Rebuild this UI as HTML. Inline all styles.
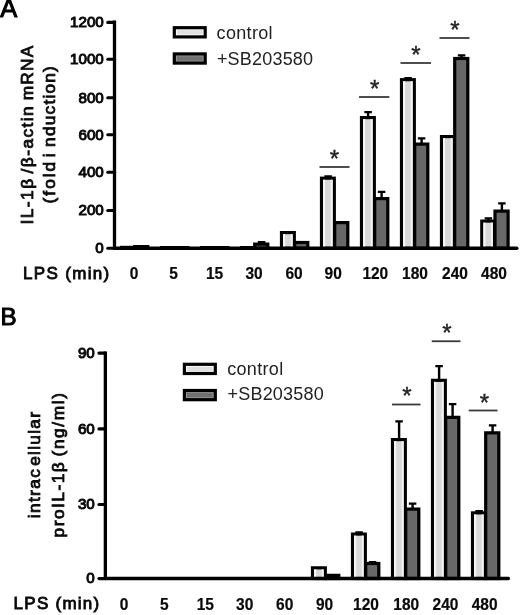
<!DOCTYPE html>
<html lang="en">
<head>
<meta charset="utf-8">
<title>Figure</title>
<style>
html,body{margin:0;padding:0;background:#fff;}
body{width:520px;height:615px;overflow:hidden;}
svg{display:block;filter:grayscale(100%);}
text{font-family:"Liberation Sans", Arial, Helvetica, sans-serif;fill:#0a0a0a;}
.tk{font-size:15.2px;stroke:#0a0a0a;stroke-width:1px;}
.tkx{font-size:15.5px;font-weight:bold;stroke:#0a0a0a;stroke-width:0.2px;}
.sb18{font-size:17px;stroke:#0a0a0a;stroke-width:0.85px;}
.yl{font-size:16px;stroke:#0a0a0a;stroke-width:0.8px;}
.pan{font-size:25.5px;fill:#000;stroke:#000;stroke-width:1px;}
.panb{font-size:24.2px;}
.lg{font-size:18px;fill:#222;}
.ast{font-size:24px;fill:#222;stroke:#222;stroke-width:0.4px;}
</style>
</head>
<body>
<svg width="520" height="615" viewBox="0 0 520 615">
<rect width="520" height="615" fill="#fff"/>
<rect x="121.50" y="247.40" width="12.8" height="0.90" fill="#d8d8d8" stroke="#000" stroke-width="3.2"/>
<rect x="134.70" y="246.60" width="13.1" height="1.70" fill="#686868" stroke="#000" stroke-width="3.2"/>
<rect x="161.50" y="247.60" width="12.8" height="0.70" fill="#d8d8d8" stroke="#000" stroke-width="3.2"/>
<rect x="174.70" y="247.60" width="13.1" height="0.70" fill="#686868" stroke="#000" stroke-width="3.2"/>
<rect x="201.50" y="247.60" width="12.8" height="0.70" fill="#d8d8d8" stroke="#000" stroke-width="3.2"/>
<rect x="214.70" y="247.60" width="13.1" height="0.70" fill="#686868" stroke="#000" stroke-width="3.2"/>
<rect x="241.50" y="247.60" width="12.8" height="0.70" fill="#d8d8d8" stroke="#000" stroke-width="3.2"/>
<path d="M261.60 244.00V242.10M257.85 242.10H265.35" stroke="#000" stroke-width="2.4" fill="none"/>
<rect x="254.70" y="244.10" width="13.1" height="4.20" fill="#686868" stroke="#000" stroke-width="3.2"/>
<rect x="281.50" y="232.60" width="12.8" height="15.70" fill="#d8d8d8" stroke="#000" stroke-width="3.2"/>
<rect x="283.00" y="234.10" width="2.2" height="14.20" fill="#f6f6f6"/>
<rect x="290.60" y="234.10" width="2.1" height="14.20" fill="#f2f2f2"/>
<rect x="294.70" y="242.50" width="13.1" height="5.80" fill="#686868" stroke="#000" stroke-width="3.2"/>
<path d="M328.10 178.10V176.40M324.35 176.40H331.85" stroke="#000" stroke-width="2.4" fill="none"/>
<rect x="321.50" y="178.20" width="12.8" height="70.10" fill="#d8d8d8" stroke="#000" stroke-width="3.2"/>
<rect x="323.00" y="179.70" width="2.2" height="68.60" fill="#f6f6f6"/>
<rect x="330.60" y="179.70" width="2.1" height="68.60" fill="#f2f2f2"/>
<rect x="334.70" y="222.60" width="13.1" height="25.70" fill="#686868" stroke="#000" stroke-width="3.2"/>
<path d="M368.10 117.50V112.10M364.35 112.10H371.85" stroke="#000" stroke-width="2.4" fill="none"/>
<rect x="361.50" y="117.60" width="12.8" height="130.70" fill="#d8d8d8" stroke="#000" stroke-width="3.2"/>
<rect x="363.00" y="119.10" width="2.2" height="129.20" fill="#f6f6f6"/>
<rect x="370.60" y="119.10" width="2.1" height="129.20" fill="#f2f2f2"/>
<path d="M381.60 198.50V191.90M377.85 191.90H385.35" stroke="#000" stroke-width="2.4" fill="none"/>
<rect x="374.70" y="198.60" width="13.1" height="49.70" fill="#686868" stroke="#000" stroke-width="3.2"/>
<path d="M408.10 79.60V78.30M404.35 78.30H411.85" stroke="#000" stroke-width="2.4" fill="none"/>
<rect x="401.50" y="79.70" width="12.8" height="168.60" fill="#d8d8d8" stroke="#000" stroke-width="3.2"/>
<rect x="403.00" y="81.20" width="2.2" height="167.10" fill="#f6f6f6"/>
<rect x="410.60" y="81.20" width="2.1" height="167.10" fill="#f2f2f2"/>
<path d="M421.60 144.00V138.40M417.85 138.40H425.35" stroke="#000" stroke-width="2.4" fill="none"/>
<rect x="414.70" y="144.10" width="13.1" height="104.20" fill="#686868" stroke="#000" stroke-width="3.2"/>
<rect x="441.50" y="136.60" width="12.8" height="111.70" fill="#d8d8d8" stroke="#000" stroke-width="3.2"/>
<rect x="443.00" y="138.10" width="2.2" height="110.20" fill="#f6f6f6"/>
<rect x="450.60" y="138.10" width="2.1" height="110.20" fill="#f2f2f2"/>
<path d="M461.60 58.40V55.40M457.85 55.40H465.35" stroke="#000" stroke-width="2.4" fill="none"/>
<rect x="454.70" y="58.50" width="13.1" height="189.80" fill="#686868" stroke="#000" stroke-width="3.2"/>
<path d="M488.40 221.00V218.40M484.65 218.40H492.15" stroke="#000" stroke-width="2.4" fill="none"/>
<rect x="481.80" y="221.10" width="12.8" height="27.20" fill="#d8d8d8" stroke="#000" stroke-width="3.2"/>
<rect x="483.30" y="222.60" width="2.2" height="25.70" fill="#f6f6f6"/>
<rect x="490.90" y="222.60" width="2.1" height="25.70" fill="#f2f2f2"/>
<path d="M501.90 211.00V203.40M498.15 203.40H505.65" stroke="#000" stroke-width="2.4" fill="none"/>
<rect x="495.00" y="211.10" width="13.1" height="37.20" fill="#686868" stroke="#000" stroke-width="3.2"/>
<path d="M114.50 20.60V249.80" stroke="#000" stroke-width="3.3" fill="none"/>
<path d="M114.50 248.30H516.80" stroke="#000" stroke-width="3.4" stroke-linecap="round" fill="none"/>
<path d="M107.80 22.40H114.50" stroke="#000" stroke-width="3.1" stroke-linecap="round" fill="none"/>
<text transform="translate(103.8 27.2) scale(1 1.02)" text-anchor="end" class="tk">1200</text>
<path d="M107.80 59.30H114.50" stroke="#000" stroke-width="3.1" stroke-linecap="round" fill="none"/>
<text transform="translate(103.8 64.1) scale(1 1.02)" text-anchor="end" class="tk">1000</text>
<path d="M107.80 97.80H114.50" stroke="#000" stroke-width="3.1" stroke-linecap="round" fill="none"/>
<text transform="translate(103.8 102.6) scale(1 1.02)" text-anchor="end" class="tk">800</text>
<path d="M107.80 134.80H114.50" stroke="#000" stroke-width="3.1" stroke-linecap="round" fill="none"/>
<text transform="translate(103.8 139.6) scale(1 1.02)" text-anchor="end" class="tk">600</text>
<path d="M107.80 172.30H114.50" stroke="#000" stroke-width="3.1" stroke-linecap="round" fill="none"/>
<text transform="translate(103.8 177.1) scale(1 1.02)" text-anchor="end" class="tk">400</text>
<path d="M107.80 210.50H114.50" stroke="#000" stroke-width="3.1" stroke-linecap="round" fill="none"/>
<text transform="translate(103.8 215.3) scale(1 1.02)" text-anchor="end" class="tk">200</text>
<path d="M107.80 248.20H114.50" stroke="#000" stroke-width="3.1" stroke-linecap="round" fill="none"/>
<text transform="translate(103.8 253.0) scale(1 1.02)" text-anchor="end" class="tk">0</text>
<path d="M319.50 167.00H349.50" stroke="#3a3a3a" stroke-width="1.8" fill="none"/>
<text x="334.3" y="166.6" text-anchor="middle" class="ast">*</text>
<path d="M359.00 97.00H389.30" stroke="#3a3a3a" stroke-width="1.8" fill="none"/>
<text x="374.6" y="96.6" text-anchor="middle" class="ast">*</text>
<path d="M400.50 63.00H431.00" stroke="#3a3a3a" stroke-width="1.8" fill="none"/>
<text x="416" y="62.6" text-anchor="middle" class="ast">*</text>
<path d="M439.50 38.00H469.50" stroke="#3a3a3a" stroke-width="1.8" fill="none"/>
<text x="455" y="37.6" text-anchor="middle" class="ast">*</text>
<rect x="312.50" y="567.85" width="12.8" height="10.65" fill="#d8d8d8" stroke="#000" stroke-width="3.2"/>
<rect x="314.00" y="569.35" width="2.2" height="9.15" fill="#f6f6f6"/>
<rect x="321.60" y="569.35" width="2.1" height="9.15" fill="#f2f2f2"/>
<rect x="325.70" y="575.35" width="13.1" height="3.15" fill="#686868" stroke="#000" stroke-width="3.2"/>
<path d="M359.10 534.00V532.50M355.35 532.50H362.85" stroke="#000" stroke-width="2.4" fill="none"/>
<rect x="352.50" y="534.10" width="12.8" height="44.40" fill="#d8d8d8" stroke="#000" stroke-width="3.2"/>
<rect x="354.00" y="535.60" width="2.2" height="42.90" fill="#f6f6f6"/>
<rect x="361.60" y="535.60" width="2.1" height="42.90" fill="#f2f2f2"/>
<path d="M372.60 563.40V562.10M368.85 562.10H376.35" stroke="#000" stroke-width="2.4" fill="none"/>
<rect x="365.70" y="563.50" width="13.1" height="15.00" fill="#686868" stroke="#000" stroke-width="3.2"/>
<path d="M399.10 439.50V421.40M395.35 421.40H402.85" stroke="#000" stroke-width="2.4" fill="none"/>
<rect x="392.50" y="439.60" width="12.8" height="138.90" fill="#d8d8d8" stroke="#000" stroke-width="3.2"/>
<rect x="394.00" y="441.10" width="2.2" height="137.40" fill="#f6f6f6"/>
<rect x="401.60" y="441.10" width="2.1" height="137.40" fill="#f2f2f2"/>
<path d="M412.60 509.00V503.65M408.85 503.65H416.35" stroke="#000" stroke-width="2.4" fill="none"/>
<rect x="405.70" y="509.10" width="13.1" height="69.40" fill="#686868" stroke="#000" stroke-width="3.2"/>
<path d="M439.10 380.25V366.15M435.35 366.15H442.85" stroke="#000" stroke-width="2.4" fill="none"/>
<rect x="432.50" y="380.35" width="12.8" height="198.15" fill="#d8d8d8" stroke="#000" stroke-width="3.2"/>
<rect x="434.00" y="381.85" width="2.2" height="196.65" fill="#f6f6f6"/>
<rect x="441.60" y="381.85" width="2.1" height="196.65" fill="#f2f2f2"/>
<path d="M452.60 417.25V404.15M448.85 404.15H456.35" stroke="#000" stroke-width="2.4" fill="none"/>
<rect x="445.70" y="417.35" width="13.1" height="161.15" fill="#686868" stroke="#000" stroke-width="3.2"/>
<path d="M479.10 512.80V511.10M475.35 511.10H482.85" stroke="#000" stroke-width="2.4" fill="none"/>
<rect x="472.50" y="512.90" width="12.8" height="65.60" fill="#d8d8d8" stroke="#000" stroke-width="3.2"/>
<rect x="474.00" y="514.40" width="2.2" height="64.10" fill="#f6f6f6"/>
<rect x="481.60" y="514.40" width="2.1" height="64.10" fill="#f2f2f2"/>
<path d="M492.60 432.75V425.40M488.85 425.40H496.35" stroke="#000" stroke-width="2.4" fill="none"/>
<rect x="485.70" y="432.85" width="13.1" height="145.65" fill="#686868" stroke="#000" stroke-width="3.2"/>
<path d="M105.35 351.50V580.00" stroke="#000" stroke-width="3.3" fill="none"/>
<path d="M105.35 578.50H508.35" stroke="#000" stroke-width="3.4" stroke-linecap="round" fill="none"/>
<path d="M98.95 353.10H105.35" stroke="#000" stroke-width="3.1" stroke-linecap="round" fill="none"/>
<text transform="translate(94.8 357.9) scale(1 1.02)" text-anchor="end" class="tk">90</text>
<path d="M98.95 428.90H105.35" stroke="#000" stroke-width="3.1" stroke-linecap="round" fill="none"/>
<text transform="translate(94.8 433.7) scale(1 1.02)" text-anchor="end" class="tk">60</text>
<path d="M98.95 504.50H105.35" stroke="#000" stroke-width="3.1" stroke-linecap="round" fill="none"/>
<text transform="translate(94.8 509.3) scale(1 1.02)" text-anchor="end" class="tk">30</text>
<path d="M98.95 578.60H105.35" stroke="#000" stroke-width="3.1" stroke-linecap="round" fill="none"/>
<text transform="translate(94.8 583.4) scale(1 1.02)" text-anchor="end" class="tk">0</text>
<path d="M392.00 404.50H420.50" stroke="#3a3a3a" stroke-width="1.8" fill="none"/>
<text x="407" y="404.1" text-anchor="middle" class="ast">*</text>
<path d="M431.75 341.25H460.50" stroke="#3a3a3a" stroke-width="1.8" fill="none"/>
<text x="447" y="340.8" text-anchor="middle" class="ast">*</text>
<path d="M468.75 410.50H497.50" stroke="#3a3a3a" stroke-width="1.8" fill="none"/>
<text x="484.3" y="410.9" text-anchor="middle" class="ast">*</text>
<text transform="translate(134 279.3) scale(1 1.1)" text-anchor="middle" class="tkx">0</text>
<text transform="translate(173.5 279.3) scale(1 1.1)" text-anchor="middle" class="tkx">5</text>
<text transform="translate(214.5 279.3) scale(1 1.1)" text-anchor="middle" class="tkx">15</text>
<text transform="translate(254 279.3) scale(1 1.1)" text-anchor="middle" class="tkx">30</text>
<text transform="translate(294 279.3) scale(1 1.1)" text-anchor="middle" class="tkx">60</text>
<text transform="translate(333.2 279.3) scale(1 1.1)" text-anchor="middle" class="tkx">90</text>
<text transform="translate(375.3 279.3) scale(1 1.1)" text-anchor="middle" class="tkx">120</text>
<text transform="translate(415 279.3) scale(1 1.1)" text-anchor="middle" class="tkx">180</text>
<text transform="translate(455 279.3) scale(1 1.1)" text-anchor="middle" class="tkx">240</text>
<text transform="translate(494 279.3) scale(1 1.1)" text-anchor="middle" class="tkx">480</text>
<text transform="translate(124 609.6) scale(1 1.1)" text-anchor="middle" class="tkx">0</text>
<text transform="translate(164.3 609.6) scale(1 1.1)" text-anchor="middle" class="tkx">5</text>
<text transform="translate(205.3 609.6) scale(1 1.1)" text-anchor="middle" class="tkx">15</text>
<text transform="translate(244.7 609.6) scale(1 1.1)" text-anchor="middle" class="tkx">30</text>
<text transform="translate(284.7 609.6) scale(1 1.1)" text-anchor="middle" class="tkx">60</text>
<text transform="translate(324.5 609.6) scale(1 1.1)" text-anchor="middle" class="tkx">90</text>
<text transform="translate(366 609.6) scale(1 1.1)" text-anchor="middle" class="tkx">120</text>
<text transform="translate(406.2 609.6) scale(1 1.1)" text-anchor="middle" class="tkx">180</text>
<text transform="translate(445.5 609.6) scale(1 1.1)" text-anchor="middle" class="tkx">240</text>
<text transform="translate(484.6 609.6) scale(1 1.1)" text-anchor="middle" class="tkx">480</text>
<text x="23.0" y="279.0" textLength="86.2" lengthAdjust="spacing" class="sb18">LPS (min)</text>
<text x="13.6" y="609.1" textLength="85.6" lengthAdjust="spacing" class="sb18">LPS (min)</text>
<text x="0.3" y="17.1" class="pan">A</text>
<text x="0.6" y="325.3" class="pan panb">B</text>
<text transform="translate(32.7 224.0) scale(1 1.08) rotate(-90)" class="yl"><tspan x="-0.51" style="letter-spacing:1.37px">IL-1β </tspan><tspan x="46.88" style="letter-spacing:1.337px">/β-actin </tspan><tspan x="114.59" style="letter-spacing:1.137px">mRNA</tspan></text>
<text transform="translate(54.7 203.0) scale(1 1.08) rotate(-90)" class="yl"><tspan x="-0.41" style="letter-spacing:1.868px">(fold </tspan><tspan x="42.46" style="letter-spacing:0px">i</tspan><tspan x="51.9" style="letter-spacing:1.132px">nduction)</tspan></text>
<text transform="translate(40.3 518.0) scale(1 1.08) rotate(-90)" class="yl"><tspan x="-0.23" style="letter-spacing:1.261px">intrac</tspan><tspan x="48.27" style="letter-spacing:1.205px">ellular</tspan></text>
<text transform="translate(64.2 537.0) scale(1 1.08) rotate(-90)" class="yl"><tspan x="-0.41" style="letter-spacing:1.395px">proIL-1β </tspan><tspan x="74.59" style="letter-spacing:1.483px">(ng/ml)</tspan></text>
<rect x="174.30" y="27.70" width="30.9" height="9.2" fill="#fff" stroke="#000" stroke-width="3.2"/>
<rect x="176.90" y="30.10" width="25.7" height="4.4" fill="#e0e0e0"/>
<rect x="174.30" y="53.90" width="30.9" height="9.2" fill="#989898" stroke="#000" stroke-width="3.2"/>
<rect x="176.90" y="56.30" width="25.7" height="4.4" fill="#707070"/>
<text x="216.6" y="38.5" textLength="56" lengthAdjust="spacing" class="lg">control</text>
<text x="216.9" y="64.5" textLength="96.2" lengthAdjust="spacing" class="lg">+SB203580</text>
<rect x="184.40" y="364.30" width="30.9" height="9.2" fill="#fff" stroke="#000" stroke-width="3.2"/>
<rect x="187.00" y="366.70" width="25.7" height="4.4" fill="#e0e0e0"/>
<rect x="184.40" y="390.50" width="30.9" height="9.2" fill="#989898" stroke="#000" stroke-width="3.2"/>
<rect x="187.00" y="392.90" width="25.7" height="4.4" fill="#707070"/>
<text x="227.2" y="374.5" textLength="56" lengthAdjust="spacing" class="lg">control</text>
<text x="227.5" y="400.0" textLength="96.2" lengthAdjust="spacing" class="lg">+SB203580</text>
</svg>
</body>
</html>
